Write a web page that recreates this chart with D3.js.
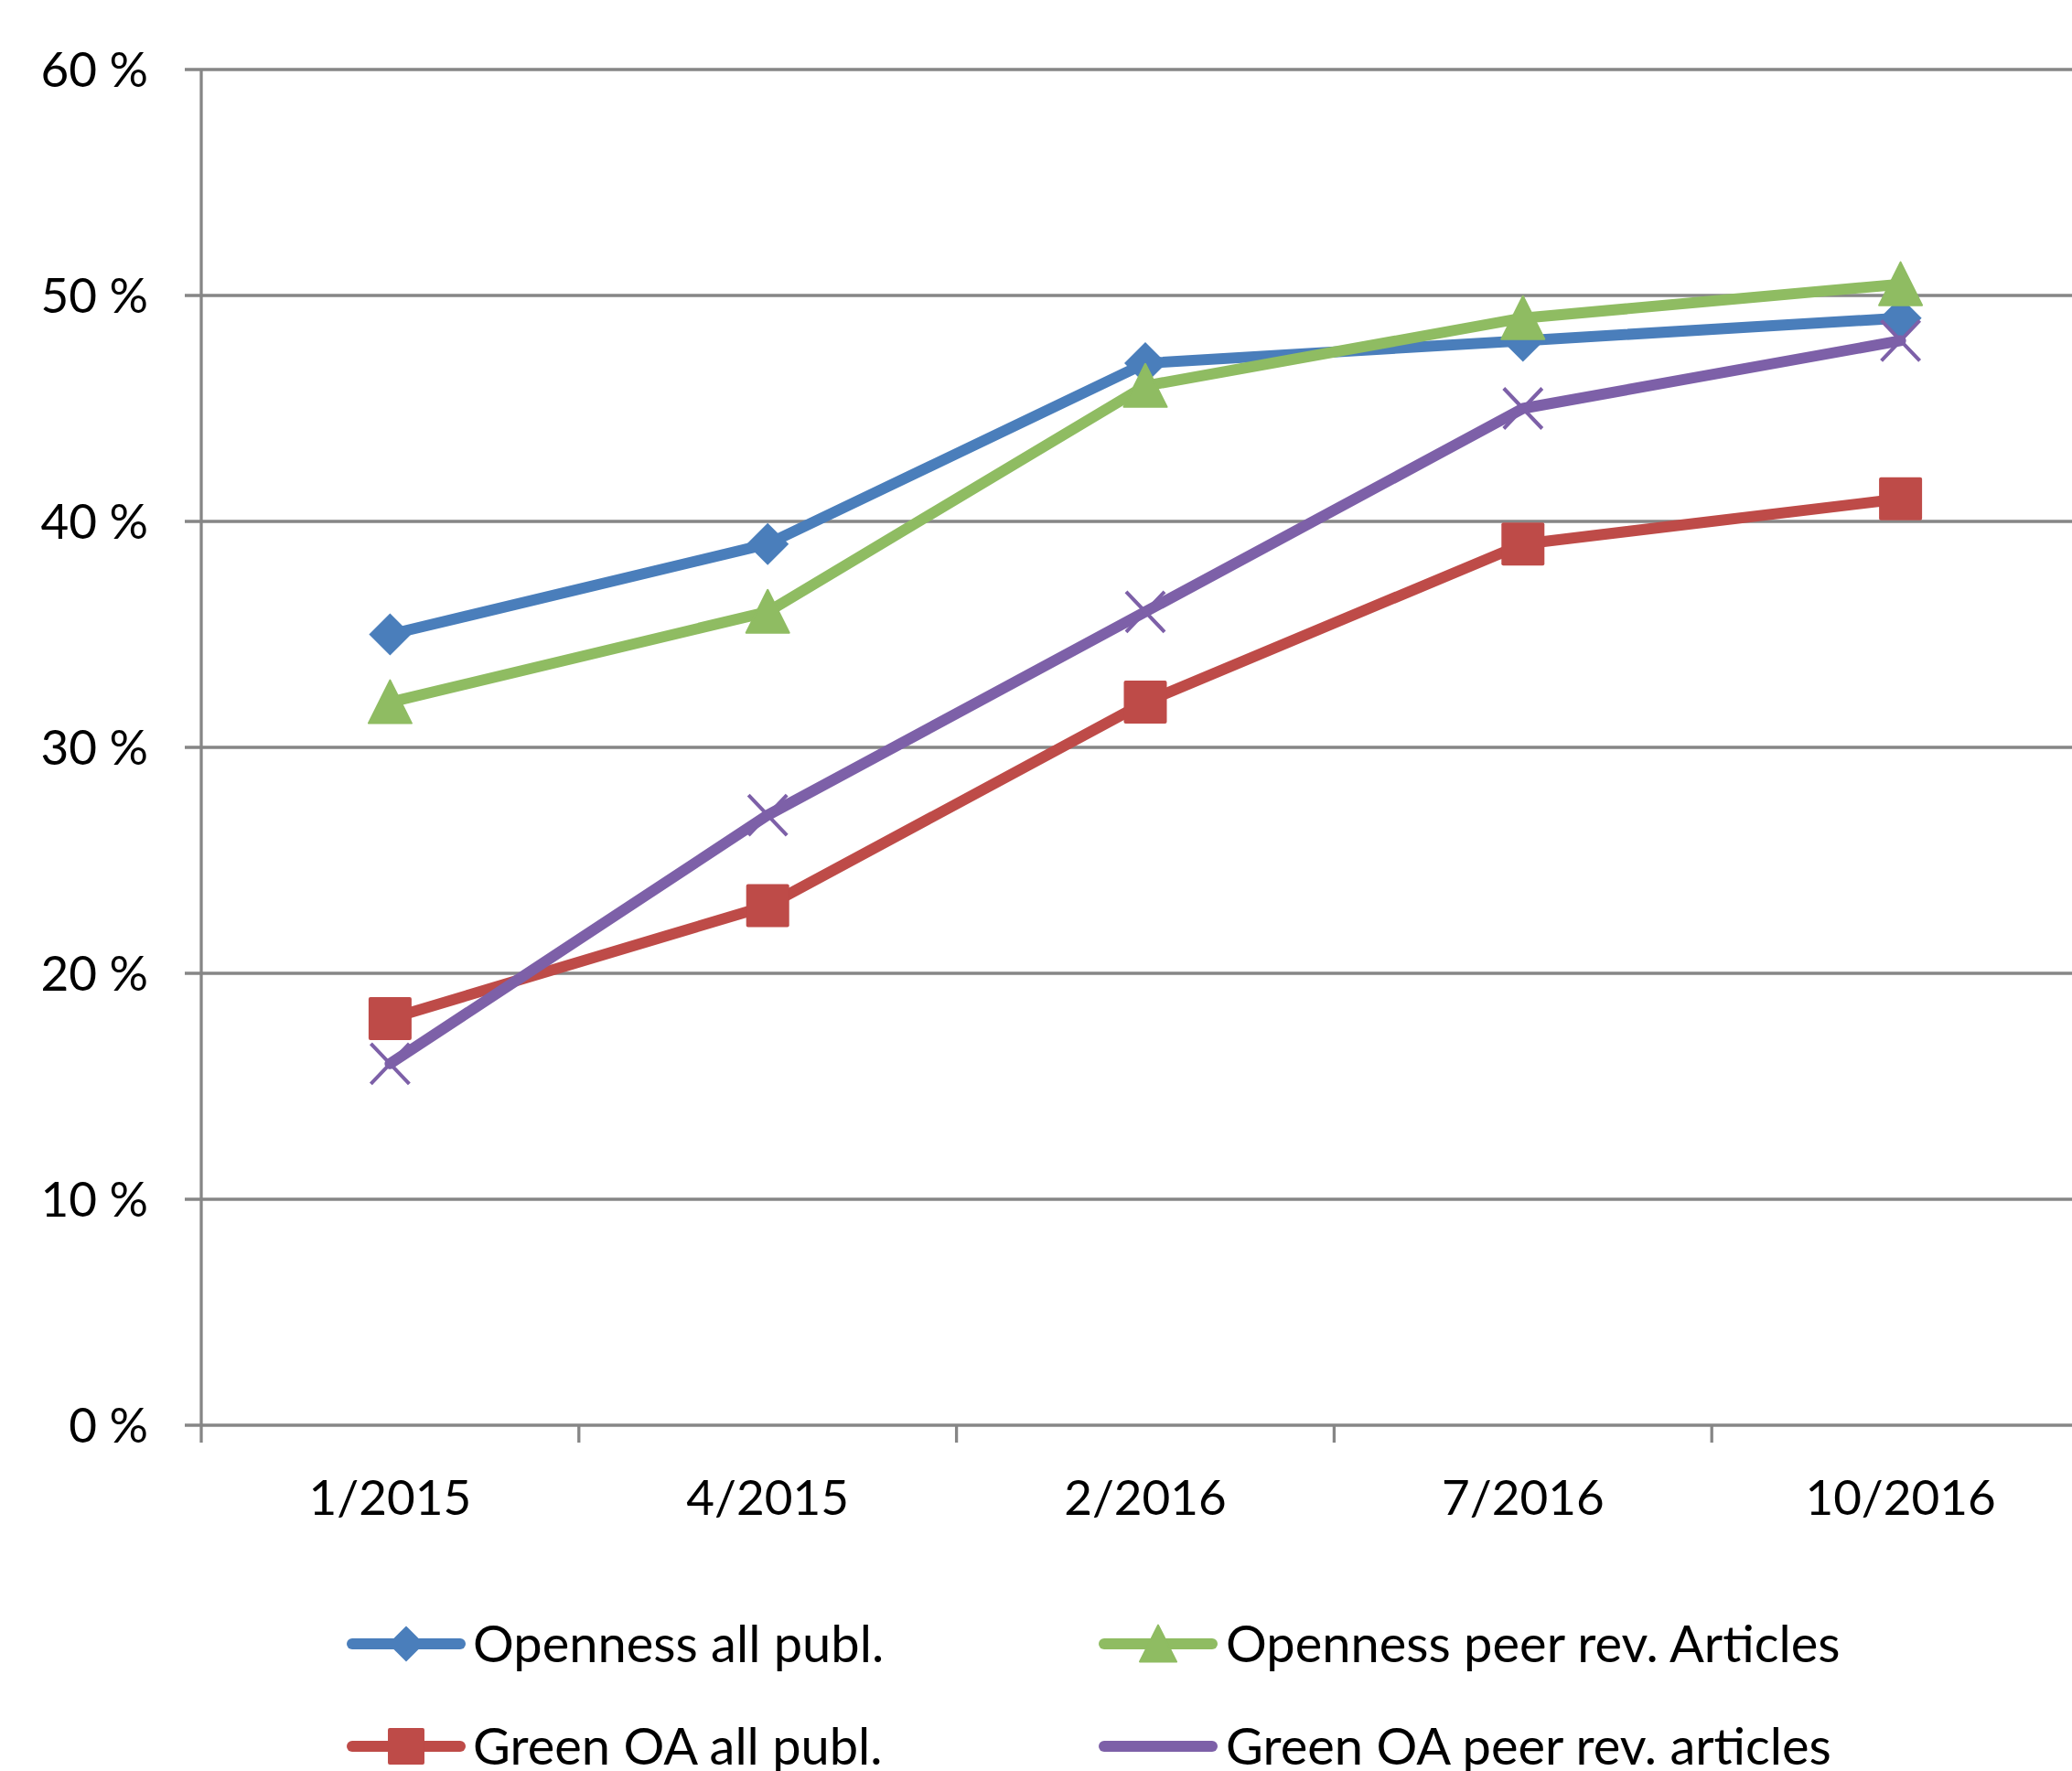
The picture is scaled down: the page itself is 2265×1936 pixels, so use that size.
<!DOCTYPE html>
<html>
<head>
<meta charset="utf-8">
<script src="https://cdn.jsdelivr.net/npm/d3@7"></script>
<style>
html,body{margin:0;padding:0;background:#fff;}
svg{display:block;}
text{font-family:Lato,"Open Sans",sans-serif;fill:#000;}
</style>
</head>
<body>
<script>
const categories = ["1/2015","4/2015","2/2016","7/2016","10/2016"];
const opennessAll = [35, 39, 47, 48, 49];
const opennessPeer = [32, 36, 46, 49, 50.5];
const greenAll = [18, 23, 32, 39, 41];
const greenPeer = [16, 27, 36, 45, 48];
const yTicks = [0,10,20,30,40,50,60];
const seriesNames = ["Openness all publ.","Openness peer rev. Articles","Green OA all publ.","Green OA peer rev. articles"];

const W = 2265, H = 1936;
const svg = d3.select("body").append("svg").attr("width", W).attr("height", H);

const x = d3.scaleBand().domain(categories).range([220, 2284]).padding(0);
const y = d3.scaleLinear().domain([0, 60]).range([1558, 76]);
const gridColor = "#868686";

// gridlines
svg.append("g").selectAll("line").data(yTicks).join("line")
  .attr("x1", 202).attr("x2", W)
  .attr("y1", d => y(d)).attr("y2", d => y(d))
  .attr("stroke", gridColor).attr("stroke-width", 3.3);

// y axis line
svg.append("line").attr("x1", 220).attr("x2", 220).attr("y1", y(60)).attr("y2", 1577)
  .attr("stroke", gridColor).attr("stroke-width", 3.3);

// x tick marks
svg.append("g").selectAll("line").data(categories.slice(1)).join("line")
  .attr("x1", d => x(d)).attr("x2", d => x(d))
  .attr("y1", y(0)).attr("y2", 1577)
  .attr("stroke", gridColor).attr("stroke-width", 3.3);

// y labels
svg.append("g").selectAll("text").data(yTicks).join("text")
  .attr("x", 162).attr("y", d => y(d)).attr("dy", "0.36em")
  .attr("text-anchor", "end").attr("font-size", 53)
  .text(d => d + " %");

// x labels
svg.append("g").selectAll("text").data(categories).join("text")
  .attr("x", d => x(d) + x.bandwidth()/2).attr("y", 1656)
  .attr("text-anchor", "middle").attr("font-size", 53)
  .text(d => d);

const series = [
  {name: seriesNames[0], values: opennessAll, color: "#4A7EBB", marker: "diamond"},
  {name: seriesNames[1], values: opennessPeer, color: "#8FBC62", marker: "triangle"},
  {name: seriesNames[2], values: greenAll, color: "#BE4B48", marker: "square"},
  {name: seriesNames[3], values: greenPeer, color: "#7D60A8", marker: "x"}
];

function drawMarker(g, type, color, s) {
  s = s || 1;
  if (type === "diamond") {
    g.append("path").attr("d", `M0,${-23*s}L${23*s},0L0,${23*s}L${-23*s},0Z`).attr("fill", color);
  } else if (type === "triangle") {
    g.append("path").attr("d", `M0,${-24*s}L${23.5*s},${23*s}L${-23.5*s},${23*s}Z`)
      .attr("fill", color).attr("stroke", color).attr("stroke-width", 2).attr("stroke-linejoin","round");
  } else if (type === "square") {
    g.append("rect").attr("x", -23.5*s).attr("y", -23.5*s).attr("width", 47*s).attr("height", 47*s)
      .attr("rx", 2).attr("fill", color);
  } else if (type === "x") {
    g.append("path").attr("d", `M${-21*s},${-22*s}L${21*s},${22*s}M${21*s},${-22*s}L${-21*s},${22*s}`)
      .attr("stroke", color).attr("stroke-width", 4).attr("fill", "none");
  }
}

const line = d3.line().x((d,i) => x(categories[i]) + x.bandwidth()/2).y(d => y(d));

series.forEach(s => {
  const g = svg.append("g");
  g.append("path").datum(s.values).attr("d", line)
    .attr("fill", "none").attr("stroke", s.color).attr("stroke-width", 12)
    .attr("stroke-linejoin", "round").attr("stroke-linecap", "round");
  s.values.forEach((v, i) => {
    const mg = g.append("g").attr("transform", `translate(${x(categories[i]) + x.bandwidth()/2},${y(v)})`);
    drawMarker(mg, s.marker, s.color, 1);
  });
});

// legend
const legendPos = [
  {x1: 385, x2: 503, ty: 1797, tx: 517},
  {x1: 1207, x2: 1325, ty: 1797, tx: 1340},
  {x1: 385, x2: 503, ty: 1909, tx: 517},
  {x1: 1207, x2: 1325, ty: 1909, tx: 1340}
];
series.forEach((s, i) => {
  const p = legendPos[i];
  const g = svg.append("g");
  g.append("line").attr("x1", p.x1).attr("x2", p.x2).attr("y1", p.ty).attr("y2", p.ty)
    .attr("stroke", s.color).attr("stroke-width", 12).attr("stroke-linecap", "round");
  if (s.marker !== "x") {
    const mg = g.append("g").attr("transform", `translate(${(p.x1+p.x2)/2},${p.ty})`);
    drawMarker(mg, s.marker, s.color, 0.85);
  }
  g.append("text").attr("x", p.tx).attr("y", p.ty).attr("dy", "0.36em")
    .attr("font-size", 56).text(s.name);
});
</script>
</body>
</html>
